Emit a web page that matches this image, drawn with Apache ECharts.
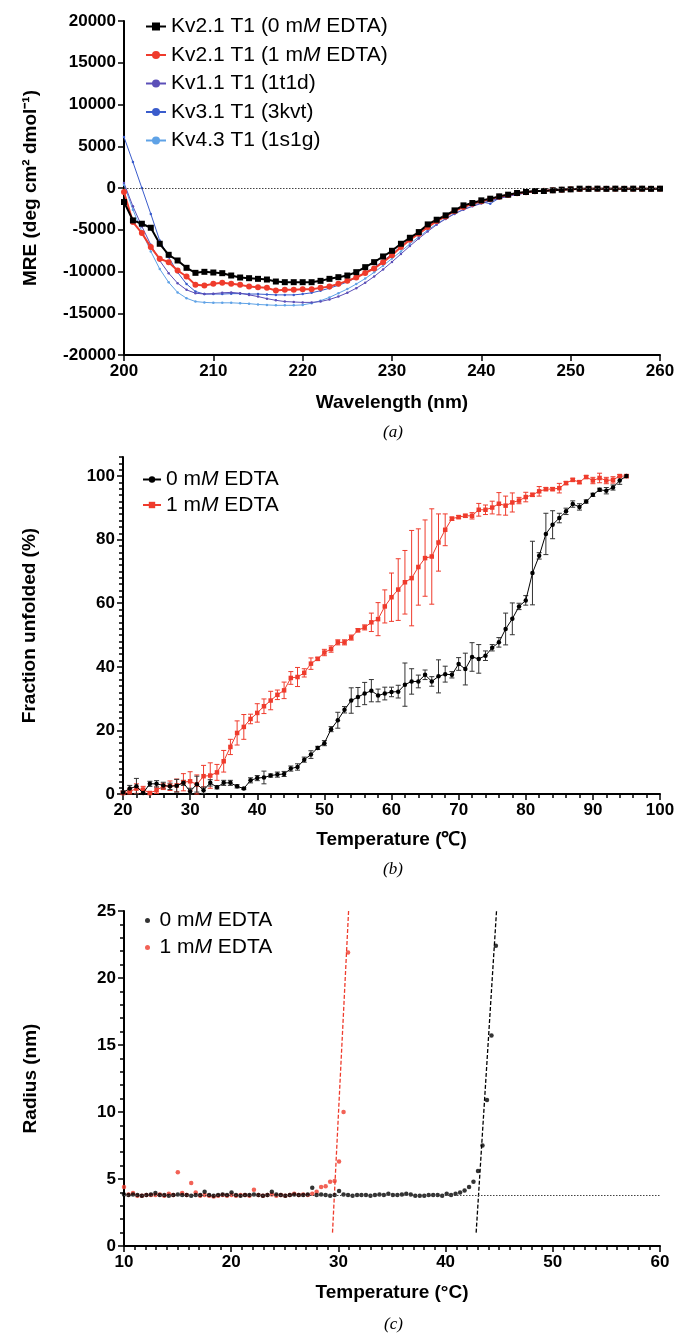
<!DOCTYPE html>
<html><head><meta charset="utf-8">
<script src="https://cdn.jsdelivr.net/npm/echarts@6/dist/echarts.min.js"></script>
<style>html,body{margin:0;padding:0;background:#fff}#c{width:678px;height:1337px}</style>
</head><body><div id="c"></div>
<script>
// ---------- Panel (a): CD spectra ----------
const wavelengths = [200,201,202,203,204,205,206,207,208,209,210,211,212,213,214,215,216,217,218,219,220,221,222,223,224,225,226,227,228,229,230,231,232,233,234,235,236,237,238,239,240,241,242,243,244,245,246,247,248,249,250,251,252,253,254,255,256,257,258,259,260];
const kv21_0mM = [-1680,-3880,-4280,-4760,-6680,-8000,-8680,-9560,-10160,-10040,-10120,-10200,-10480,-10720,-10800,-10880,-10960,-11200,-11280,-11280,-11280,-11280,-11120,-10880,-10680,-10480,-10080,-9480,-8880,-8200,-7520,-6680,-5960,-5280,-4360,-3800,-3280,-2680,-2080,-1800,-1480,-1280,-1000,-800,-600,-480,-360,-360,-280,-200,-160,-80,-100,-80,-100,-80,-100,-80,-80,-100,-80];
const kv21_1mM = [-480,-4080,-5400,-7080,-8480,-8880,-9880,-10600,-11600,-11680,-11480,-11360,-11480,-11600,-11800,-11880,-11960,-12280,-12200,-12200,-12120,-12120,-11960,-11800,-11480,-11120,-10720,-10180,-9640,-8880,-8040,-7080,-6200,-5480,-4680,-3960,-3400,-2760,-2280,-1900,-1580,-1320,-1060,-840,-640,-500,-380,-340,-260,-200,-150,-110,-100,-90,-100,-90,-90,-100,-90,-90,-90];
const kv11_1t1d = [600,-2200,-4600,-6800,-8700,-10200,-11400,-12200,-12600,-12700,-12650,-12550,-12500,-12600,-12800,-13000,-13250,-13450,-13600,-13650,-13700,-13700,-13600,-13350,-13000,-12550,-12000,-11350,-10600,-9750,-8850,-7900,-6950,-6050,-5200,-4400,-3700,-3100,-2600,-2200,-1850,-1550,-1250,-1000,-780,-600,-450,-340,-250,-190,-140,-110,-100,-90,-90,-80,-80,-80,-80,-80,-80];
const kv31_3kvt = [6100,3100,0,-3100,-6300,-8300,-10100,-11500,-12400,-12700,-12700,-12700,-12650,-12650,-12700,-12700,-12750,-12800,-12800,-12800,-12700,-12550,-12300,-12000,-11650,-11250,-10750,-10150,-9500,-8750,-7900,-7000,-6150,-5350,-4600,-3900,-3300,-2750,-2300,-1950,-1650,-1880,-1200,-950,-750,-560,-420,-320,-240,-180,-130,-110,-100,-90,-90,-80,-80,-80,-80,-80,-80];
const kv43_1s1g = [400,-2600,-5200,-7600,-9700,-11300,-12500,-13200,-13600,-13700,-13750,-13750,-13750,-13800,-13850,-13950,-14000,-14050,-14050,-14050,-14000,-13800,-13500,-13100,-12600,-12100,-11500,-10850,-10100,-9300,-8450,-7600,-6700,-5850,-5050,-4300,-3650,-3050,-2550,-2150,-1800,-1500,-1200,-950,-740,-570,-430,-330,-250,-190,-140,-110,-100,-90,-90,-80,-80,-80,-80,-80,-80];

// ---------- Panel (b): thermal unfolding ----------
const tempsB = [20,21,22,23,24,25,26,27,28,29,30,31,32,33,34,35,36,37,38,39,40,41,42,43,44,45,46,47,48,49,50,51,52,53,54,55,56,57,58,59,60,61,62,63,64,65,66,67,68,69,70,71,72,73,74,75,76,77,78,79,80,81,82,83,84,85,86,87,88,89,90,91,92,93,94,95];
const unfold0mM = [0.5,1.7,2.4,0.3,3.2,3.2,2.7,2.4,2.6,3.5,0.8,3.1,1.2,3.5,2.1,3.5,3.5,2.4,1.7,4.3,5.0,5.2,5.8,6.1,6.3,8.0,8.5,10.8,12.4,14.5,16.0,20.4,23.2,26.5,29.4,30.5,31.6,32.5,31.0,31.6,32.1,32.2,34.4,35.4,35.4,37.5,35.4,37.0,37.7,37.5,40.9,39.3,43.1,42.5,43.5,46.0,47.7,51.9,55.1,59.0,60.9,69.5,74.9,81.8,84.7,86.8,88.9,91.2,90.3,92.0,94.1,95.7,95.4,96.4,98.6,100];
const err0mM = [0.5,1,2.5,1,0.8,1,1,1,2,0.8,1,2.5,1,1,0.5,0.8,0.8,0.5,0.3,0.8,0.8,2,0.5,0.8,0.8,0.8,1,0.8,1.2,0.5,0.8,0.8,2.5,1,4,3,3.5,3.5,2,2,1.5,2,6.8,4,2,1.5,1.5,5.2,2.5,1,2,5,4.5,4.5,1.5,1,1.5,5,5,1,1.5,10,1,6.5,4.4,1.5,1,1,1,0.5,0.5,0.5,1,0.8,1.2,0.5];
const unfold1mM = [0.3,0.8,1.7,1.4,0.3,1.2,2.4,2.6,2.7,3.7,4.0,3.0,5.6,5.8,6.8,10.3,14.8,19.2,21.1,23.6,25.5,27.6,29.4,31.2,32.6,36.5,36.8,38.1,41.0,42.5,44.5,45.6,47.7,47.7,49.2,51.5,52.4,54.0,55.0,59.0,61.9,64.3,66.6,67.9,71.4,74.2,74.7,79.1,83.1,86.6,87.1,87.5,87.5,89.4,89.4,90.1,91.3,90.7,91.7,92.3,93.4,94.1,95.2,95.9,95.9,96.2,97.8,98.8,98.1,99.7,98.6,99.4,98.6,98.8,100,100];
const err1mM = [0.5,1,1.5,1,0.5,1,1,1.5,2,2.7,3,3,3.4,4,2.5,3.4,2.4,3.8,3.9,1.5,2.9,2.3,2.9,1.5,2.6,2,3,1.3,1.8,0.5,1,1,0.8,0.8,0.8,0.5,0.8,2.9,5.2,5.2,7.6,9.7,10,15,12,12,15,9,5,0.5,0.5,0.5,1,2,1.5,2,3.5,3,3,1,1.5,0.5,1.5,0.5,0.5,1.5,0.5,0.5,0.5,0.5,1,1.5,1,1,0.5,0.5];
const fractionTicks = [0, 20, 40, 60, 80, 100];

// ---------- Panel (c): DLS radius ----------
const tempsC = [10.00,10.42,10.84,11.25,11.67,12.09,12.51,12.93,13.34,13.76,14.18,14.60,15.02,15.43,15.85,16.27,16.69,17.11,17.52,17.94,18.36,18.78,19.20,19.61,20.03,20.45,20.87,21.29,21.70,22.12,22.54,22.96,23.38,23.79,24.21,24.63,25.05,25.47,25.88,26.30,26.72,27.14,27.56,27.97,28.39,28.81,29.23,29.65,30.06,30.48,30.90,31.32,31.74,32.15,32.57,32.99,33.41,33.83,34.24,34.66,35.08,35.50,35.92,36.33,36.75,37.17,37.59,38.01,38.42,38.84,39.26,39.68,40.10,40.51,40.93,41.35,41.77,42.19,42.60,43.02,43.44,43.86,44.28,44.69];
const radius0mM = [3.85,3.8,3.85,3.8,3.75,3.8,3.85,3.95,3.8,3.8,3.75,3.8,3.85,3.8,3.8,3.75,3.8,3.8,4.05,3.8,3.75,3.8,3.85,3.8,4.0,3.8,3.75,3.8,3.8,3.85,3.8,3.75,3.8,4.05,3.85,3.8,3.75,3.8,3.85,3.8,3.8,3.85,4.35,3.8,3.85,3.8,3.75,3.8,4.1,3.85,3.8,3.75,3.8,3.8,3.8,3.75,3.8,3.85,3.8,3.9,3.8,3.8,3.85,3.9,3.85,3.75,3.75,3.75,3.8,3.8,3.8,3.75,3.9,3.8,3.9,4.0,4.15,4.4,4.8,5.6,7.5,10.9,15.7,22.4];
const radius1mM = [4.4,3.85,3.95,3.75,3.75,3.8,3.8,3.8,3.85,3.75,3.9,3.8,5.5,3.95,3.8,4.7,4.0,3.75,3.8,3.75,3.7,3.75,3.8,3.75,3.8,3.75,3.8,3.8,3.75,4.2,3.8,3.75,3.8,3.85,3.75,3.8,3.75,3.8,3.9,3.8,3.85,3.8,3.9,4.05,4.4,4.45,4.8,4.85,6.3,10.0,21.9];
const fit0mM_T = [42.85,44.75], fit0mM_R = [1.0,25.0];
const fit1mM_T = [29.45,30.95], fit1mM_R = [1.0,25.0];
const baselineRadius = 3.8;

// ---------- styling ----------
const FONT = '"Liberation Sans", Arial, Helvetica, sans-serif';
const RED = '#ef3b2c', BLACK = '#000000';
const C11 = '#5b4fb8', C31 = '#3a5ccc', C43 = '#5fa2e6';
const zip = (xs, ys) => xs.slice(0, ys.length).map((x, i) => [x, ys[i]]);
const plain = v => String(v);

function axisBase(extra) {
  return Object.assign({
    axisLine: {show: true, onZero: false, lineStyle: {color: '#000', width: 2}},
    axisTick: {show: true, inside: false, length: 6, lineStyle: {color: '#000', width: 1.5}},
    axisLabel: {color: '#000', fontFamily: FONT, fontWeight: 'bold', fontSize: 17, margin: 8, formatter: plain},
    splitLine: {show: false},
    nameTextStyle: {color: '#000', fontFamily: FONT, fontWeight: 'bold', fontSize: 19},
    nameLocation: 'middle'
  }, extra);
}

const legendNames = {
  a0: ['Kv2.1 T1 (0 m', 'M', ' EDTA)'],
  a1: ['Kv2.1 T1 (1 m', 'M', ' EDTA)'],
  a2: ['Kv1.1 T1 (1t1d)'], a3: ['Kv3.1 T1 (3kvt)'], a4: ['Kv4.3 T1 (1s1g)'],
  b0: ['0 m', 'M', ' EDTA'], b1: ['1 m', 'M', ' EDTA'],
  c0: ['0 m', 'M', ' EDTA'], c1: ['1 m', 'M', ' EDTA']
};
function legendFmt(name) {
  const p = legendNames[name];
  if (p.length === 1) return '{n|' + p[0] + '}';
  return '{n|' + p[0] + '}{i|' + p[1] + '}{n|' + p[2] + '}';
}
const legendText = {
  fontFamily: FONT, fontSize: 21, color: '#000',
  rich: {n: {fontFamily: FONT, fontSize: 21, color: '#000'}, i: {fontFamily: FONT, fontSize: 21, fontStyle: 'italic', color: '#000'}}
};

function errBar(color) {
  return function (params, api) {
    const x = api.value(0), lo = api.value(1), hi = api.value(2);
    const a = api.coord([x, lo]), b = api.coord([x, hi]);
    const w = 2.5;
    const st = {stroke: color, lineWidth: 1};
    return {type: 'group', children: [
      {type: 'line', shape: {x1: a[0], y1: a[1], x2: b[0], y2: b[1]}, style: st},
      {type: 'line', shape: {x1: a[0] - w, y1: a[1], x2: a[0] + w, y2: a[1]}, style: st},
      {type: 'line', shape: {x1: b[0] - w, y1: b[1], x2: b[0] + w, y2: b[1]}, style: st}
    ]};
  };
}
const errData = (ys, es) => tempsB.map((t, i) => [t, Math.max(0, ys[i] - es[i]), ys[i] + es[i]]);

const option = {
  animation: false,
  backgroundColor: '#fff',
  grid: [
    {left: 124, top: 21, width: 536, height: 334},
    {left: 123, top: 457, width: 537, height: 337},
    {left: 124, top: 911, width: 536, height: 335}
  ],
  xAxis: [
    axisBase({gridIndex: 0, type: 'value', min: 200, max: 260, interval: 10, name: 'Wavelength (nm)', nameGap: 38}),
    axisBase({gridIndex: 1, type: 'value', min: 20, max: 100, interval: 10, name: 'Temperature (\u2103)', nameGap: 36,
      minorTick: {show: true, splitNumber: 5, length: 4, lineStyle: {color: '#000', width: 1.5}}}),
    axisBase({gridIndex: 2, type: 'value', min: 10, max: 60, interval: 10, name: 'Temperature (\u00b0C)', nameGap: 37,
      minorTick: {show: true, splitNumber: 10, length: 4, lineStyle: {color: '#000', width: 1.5}}})
  ],
  yAxis: [
    axisBase({gridIndex: 0, type: 'value', min: -20000, max: 20000, interval: 5000, name: 'MRE (deg cm\u00b2 dmol\u207b\u00b9)', nameGap: 84}),
    axisBase({gridIndex: 1, type: 'value', min: 0, max: 106, interval: 2, name: 'Fraction unfolded (%)', nameGap: 84,
      axisTick: {show: true, length: 6, lineStyle: {color: '#000', width: 1.5}, customValues: fractionTicks},
      axisLabel: {color: '#000', fontFamily: FONT, fontWeight: 'bold', fontSize: 17, margin: 8, customValues: fractionTicks, formatter: plain}}),
    {gridIndex: 1, type: 'value', min: 0, max: 106, interval: 2, position: 'left',
      axisLine: {show: false}, axisLabel: {show: false}, splitLine: {show: false},
      axisTick: {show: true, length: 4, lineStyle: {color: '#000', width: 1.5}}},
    axisBase({gridIndex: 2, type: 'value', min: 0, max: 25, interval: 5, name: 'Radius (nm)', nameGap: 84,
      minorTick: {show: true, splitNumber: 5, length: 4, lineStyle: {color: '#000', width: 1.5}}})
  ],
  legend: [
    {left: 140, top: 11, orient: 'vertical', itemGap: 7.5, itemWidth: 20, itemHeight: 10,
      data: ['a0', 'a1', 'a2', 'a3', 'a4'], formatter: legendFmt, textStyle: legendText, selectedMode: false},
    {left: 137, top: 464, orient: 'vertical', itemGap: 4.5, itemWidth: 18, itemHeight: 8,
      data: ['b0', 'b1'], formatter: legendFmt, textStyle: legendText, selectedMode: false},
    {left: 140, top: 905, orient: 'vertical', itemGap: 6, itemWidth: 14, itemHeight: 5,
      data: [{name: 'c0', icon: 'circle'}, {name: 'c1', icon: 'circle'}], formatter: legendFmt, textStyle: legendText, selectedMode: false}
  ],
  graphic: [
    {type: 'text', left: 383, top: 424, style: {text: '(a)', font: 'italic 17px "Liberation Serif", "DejaVu Serif", serif', fill: '#000'}},
    {type: 'text', left: 383, top: 861, style: {text: '(b)', font: 'italic 17px "Liberation Serif", "DejaVu Serif", serif', fill: '#000'}},
    {type: 'text', left: 384, top: 1316, style: {text: '(c)', font: 'italic 17px "Liberation Serif", "DejaVu Serif", serif', fill: '#000'}}
  ],
  series: [
    // Panel a
    {name: 'a4', type: 'line', xAxisIndex: 0, yAxisIndex: 0, data: zip(wavelengths, kv43_1s1g),
      symbol: 'circle', symbolSize: 2.5, lineStyle: {color: C43, width: 1}, itemStyle: {color: C43}},
    {name: 'a3', type: 'line', xAxisIndex: 0, yAxisIndex: 0, data: zip(wavelengths, kv31_3kvt),
      symbol: 'circle', symbolSize: 2.5, lineStyle: {color: C31, width: 1}, itemStyle: {color: C31}},
    {name: 'a2', type: 'line', xAxisIndex: 0, yAxisIndex: 0, data: zip(wavelengths, kv11_1t1d),
      symbol: 'circle', symbolSize: 2.5, lineStyle: {color: C11, width: 1}, itemStyle: {color: C11}},
    {name: 'a1', type: 'line', xAxisIndex: 0, yAxisIndex: 0, data: zip(wavelengths, kv21_1mM),
      symbol: 'circle', symbolSize: 6, lineStyle: {color: RED, width: 2}, itemStyle: {color: RED}},
    {name: 'a0', type: 'line', xAxisIndex: 0, yAxisIndex: 0, data: zip(wavelengths, kv21_0mM),
      symbol: 'rect', symbolSize: 6, lineStyle: {color: BLACK, width: 2}, itemStyle: {color: BLACK},
      markLine: {silent: true, symbol: 'none', label: {show: false}, data: [{yAxis: 0}],
        lineStyle: {color: '#444', type: [1.5, 1.5], width: 1}}},
    // Panel b
    {name: 'eb1', type: 'custom', xAxisIndex: 1, yAxisIndex: 1, data: errData(unfold1mM, err1mM), renderItem: errBar(RED), z: 2},
    {name: 'eb0', type: 'custom', xAxisIndex: 1, yAxisIndex: 1, data: errData(unfold0mM, err0mM), renderItem: errBar('#333'), z: 2},
    {name: 'b1', type: 'line', xAxisIndex: 1, yAxisIndex: 1, data: zip(tempsB, unfold1mM),
      symbol: 'rect', symbolSize: 4.5, lineStyle: {color: RED, width: 1}, itemStyle: {color: RED}, z: 3},
    {name: 'b0', type: 'line', xAxisIndex: 1, yAxisIndex: 1, data: zip(tempsB, unfold0mM),
      symbol: 'circle', symbolSize: 4.5, lineStyle: {color: BLACK, width: 1}, itemStyle: {color: BLACK}, z: 4},
    // Panel c
    {name: 'c1', type: 'scatter', xAxisIndex: 2, yAxisIndex: 3, data: zip(tempsC, radius1mM),
      symbol: 'circle', symbolSize: 4.5, itemStyle: {color: RED}, z: 3},
    {name: 'c0', type: 'scatter', xAxisIndex: 2, yAxisIndex: 3, data: zip(tempsC, radius0mM),
      symbol: 'circle', symbolSize: 4.5, itemStyle: {color: BLACK}, z: 4,
      markLine: {silent: true, symbol: 'none', label: {show: false}, data: [{yAxis: baselineRadius}],
        lineStyle: {color: '#444', type: [1.5, 1.5], width: 1}}},
    {name: 'fit1', type: 'line', xAxisIndex: 2, yAxisIndex: 3, data: zip(fit1mM_T, fit1mM_R),
      symbol: 'none', lineStyle: {color: RED, width: 1.3, type: [4, 2]}, z: 2},
    {name: 'fit0', type: 'line', xAxisIndex: 2, yAxisIndex: 3, data: zip(fit0mM_T, fit0mM_R),
      symbol: 'none', lineStyle: {color: BLACK, width: 1.3, type: [4, 2]}, z: 2}
  ]
};
const chart = echarts.init(document.getElementById('c'), null, {renderer: 'canvas'});
chart.setOption(option);
</script>
</body></html>
